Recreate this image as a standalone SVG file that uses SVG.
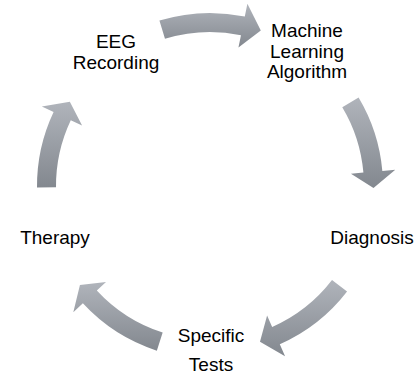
<svg xmlns="http://www.w3.org/2000/svg" width="416" height="375" viewBox="0 0 416 375">
<defs>
<linearGradient id="g" x1="0" y1="0" x2="0" y2="1">
<stop offset="0" stop-color="#b0b4bb"/>
<stop offset="1" stop-color="#83888f"/>
</linearGradient>
</defs>
<style>
.lbl{font-family:"Liberation Sans",Arial,sans-serif;font-size:19px;fill:#000;text-anchor:middle}
.arr{fill:url(#g);stroke:none}
</style>
<rect width="416" height="375" fill="#fff"/>
<g id="connectors">
<path class="arr" d="M159.42,20.56 A173,173 0 0 1 244.79,16.53 L247.40,3.80 L260.80,30.59 L238.45,47.39 L240.97,35.14 A154,154 0 0 0 164.98,38.73 Z"/>
<path class="arr" d="M358.60,97.41 A173,173 0 0 1 382.34,170.92 L395.29,169.79 L373.49,188.00 L350.96,173.67 L363.41,172.58 A154,154 0 0 0 342.28,107.14 Z"/>
<path class="arr" d="M347.07,291.56 A173,173 0 0 1 279.81,344.29 L285.06,356.18 L259.98,341.67 L267.10,315.47 L272.15,326.90 A154,154 0 0 0 332.01,279.96 Z"/>
<path class="arr" d="M156.83,350.63 A173,173 0 0 1 82.86,303.32 L73.31,312.14 L79.94,285.08 L106.01,281.96 L96.82,290.44 A154,154 0 0 0 162.67,332.54 Z"/>
<path class="arr" d="M37.01,187.51 A173,173 0 0 1 53.59,112.07 L41.84,106.51 L69.85,101.79 L82.07,125.53 L70.77,120.19 A154,154 0 0 0 56.01,187.34 Z"/>
</g>
<g id="eeg">
<text class="lbl" x="116" y="47.5">EEG</text>
<text class="lbl" x="116" y="68.5">Recording</text>
</g>
<g id="ml">
<text class="lbl" x="307" y="37">Machine</text>
<text class="lbl" x="307" y="57.5">Learning</text>
<text class="lbl" x="307" y="78">Algorithm</text>
</g>
<g id="diagnosis">
<text class="lbl" x="372" y="244">Diagnosis</text>
</g>
<g id="tests">
<text class="lbl" x="211" y="342">Specific</text>
<text class="lbl" x="211" y="371">Tests</text>
</g>
<g id="therapy">
<text class="lbl" x="55" y="244">Therapy</text>
</g>
</svg>
